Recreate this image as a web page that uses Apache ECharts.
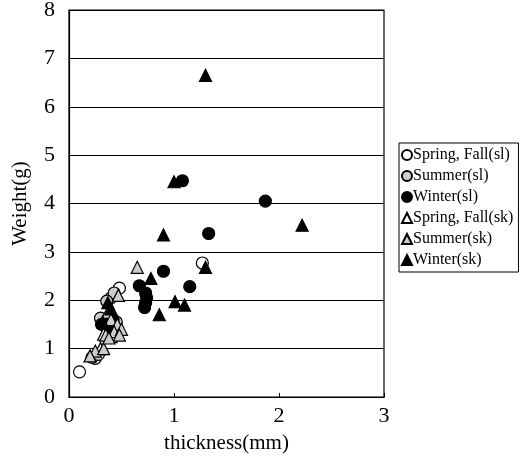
<!DOCTYPE html>
<html>
<head>
<meta charset="utf-8">
<script src="https://cdn.jsdelivr.net/npm/echarts@6/dist/echarts.min.js"></script>
<style>
  html, body { margin: 0; padding: 0; background: #fff; }
  #main { width: 528px; height: 456px; }
</style>
</head>
<body>
<div id="main"></div>
<script>
// [thickness(mm), weight(g)]
var springFallSl = [[0.1, 0.52], [1.27, 2.77], [0.48, 2.25], [0.4, 2.05], [0.25, 0.8]];
var summerSl = [[0.43, 2.15], [0.36, 1.98], [0.3, 1.63], [0.22, 0.82], [0.28, 0.88], [0.45, 1.55]];
var winterSl = [[1.08, 4.47], [1.87, 4.05], [1.33, 3.38], [0.9, 2.6], [0.67, 2.3], [1.15, 2.28],
  [0.73, 2.15], [0.74, 2.05], [0.73, 1.95], [0.72, 1.85], [0.31, 1.5], [0.35, 1.45], [0.38, 1.55], [0.42, 1.6]];
var springFallSk = [[0.33, 1.3], [0.4, 1.25], [0.3, 1.0], [0.45, 1.45]];
var summerSk = [[0.65, 2.68], [0.47, 2.1], [0.37, 1.75], [0.4, 1.6], [0.46, 1.5], [0.43, 1.35], [0.5, 1.4],
  [0.48, 1.28], [0.35, 1.28], [0.25, 0.95], [0.33, 1.0], [0.2, 0.85], [0.38, 1.22]];
var winterSk = [[1.3, 6.65], [1.0, 4.45], [2.22, 3.55], [0.9, 3.35], [1.3, 2.68], [0.78, 2.45],
  [1.01, 1.97], [1.1, 1.9], [0.86, 1.7], [0.4, 1.82], [0.37, 1.95], [0.32, 1.55]];

var font = "Liberation Serif";
var chart = echarts.init(document.getElementById("main"));

function mk(name, data, symbol, fill) {
  return {
    name: name,
    type: "scatter",
    data: data,
    symbol: symbol,
    symbolSize: 12,
    itemStyle: { color: fill, borderColor: "#000", borderWidth: 1.2, opacity: 1 }
  };
}

chart.setOption({
  backgroundColor: "#fff",
  animation: false,
  textStyle: { fontFamily: font, color: "#000" },
  grid: {
    left: 69, right: 144, top: 10, bottom: 59,
    containLabel: false, outerBoundsMode: "none",
    show: true, borderColor: "#000", borderWidth: 1.2
  },
  legend: {
    orient: "vertical",
    left: 399,
    top: 143,
    padding: [4, 5, 4, 2],
    borderColor: "#000",
    borderWidth: 1,
    itemWidth: 10,
    itemHeight: 10,
    itemGap: 5,
    textStyle: { fontFamily: font, fontSize: 16, color: "#000", padding: [0, 0, 0, -4] },
    data: ["Spring, Fall(sl)", "Summer(sl)", "Winter(sl)", "Spring, Fall(sk)", "Summer(sk)", "Winter(sk)"]
  },
  xAxis: {
    type: "value",
    min: 0, max: 3, interval: 1,
    name: "thickness(mm)",
    nameLocation: "middle",
    nameGap: 36,
    nameTextStyle: { fontFamily: font, fontSize: 21, color: "#000" },
    axisLine: { show: true, lineStyle: { color: "#000", width: 1.2 } },
    axisTick: { show: true, inside: true, length: 4, lineStyle: { color: "#000" } },
    axisLabel: { fontFamily: font, fontSize: 22, color: "#000", margin: 8 },
    splitLine: { show: false }
  },
  yAxis: {
    type: "value",
    min: 0, max: 8, interval: 1,
    name: "Weight(g)",
    nameLocation: "middle",
    nameGap: 38,
    nameTextStyle: { fontFamily: font, fontSize: 21, color: "#000" },
    axisLine: { show: true, lineStyle: { color: "#000", width: 1.2 } },
    axisTick: { show: false },
    axisLabel: { fontFamily: font, fontSize: 22, color: "#000", margin: 14 },
    splitLine: { show: true, lineStyle: { color: "#000", width: 1 } }
  },
  series: [
    mk("Spring, Fall(sl)", springFallSl, "circle", "#fff"),
    mk("Summer(sl)", summerSl, "circle", "#ccc"),
    mk("Winter(sl)", winterSl, "circle", "#000"),
    mk("Spring, Fall(sk)", springFallSk, "triangle", "#fff"),
    mk("Summer(sk)", summerSk, "triangle", "#ccc"),
    mk("Winter(sk)", winterSk, "triangle", "#000")
  ]
});
</script>
</body>
</html>
